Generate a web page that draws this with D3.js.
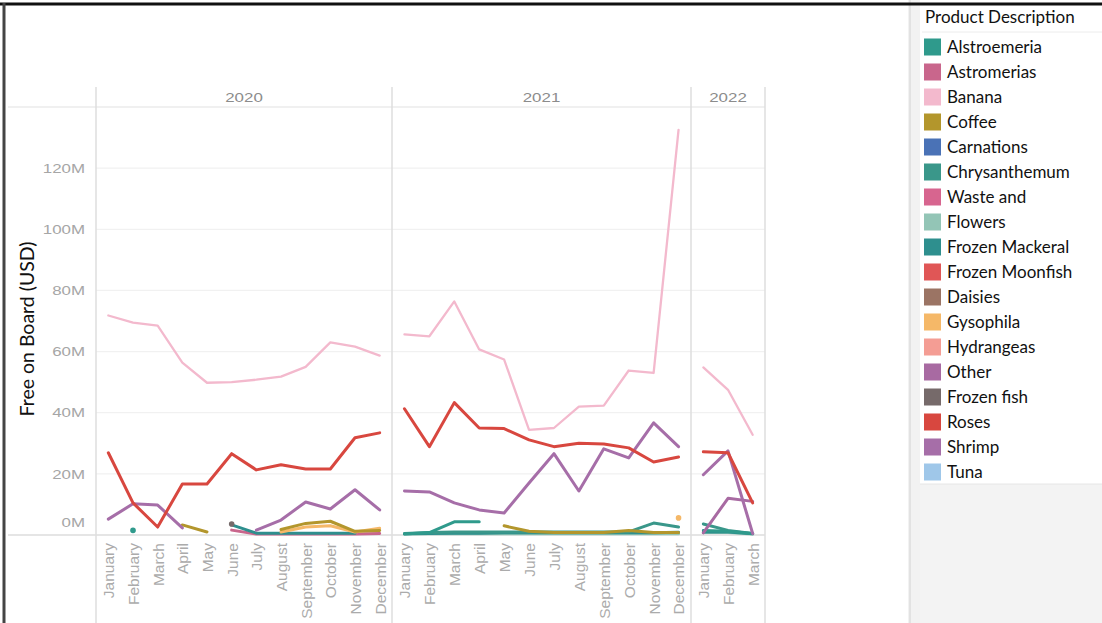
<!DOCTYPE html>
<html>
<head>
<meta charset="utf-8">
<script src="https://cdn.jsdelivr.net/npm/d3@7"></script>
<style>
  html, body { margin: 0; padding: 0; background: #fff; }
  svg { display: block; }
</style>
</head>
<body>
<svg id="chart" width="1102" height="623"></svg>
<script>
// ---------------- DATA ----------------
const years = ["2020", "2021", "2022"];
const monthsPerYear = [12, 12, 3];
const monthNames = ["January","February","March","April","May","June","July","August","September","October","November","December"];
const yTicks = [0, 20, 40, 60, 80, 100, 120]; // millions USD
const legendNames = ["Alstroemeria","Astromerias","Banana","Coffee","Carnations","Chrysanthemum","Waste and","Flowers","Frozen Mackeral","Frozen Moonfish","Daisies","Gysophila","Hydrangeas","Other","Frozen fish","Roses","Shrimp","Tuna"];
const legendColors = ["#2f9a8c","#c9668c","#f3b9cd","#b3962c","#4a72b6","#3a978a","#d7658f","#93c5b6","#2e8f8e","#e05656","#9b7464","#f5b868","#f49d94","#a86aa2","#766a6a","#d8473f","#a66ea8","#9fc7e9"];

// values in millions USD, 27 months: Jan 2020 .. Mar 2022 (null = no data)
const banana       = [71.8,69.5,68.5,56.4,49.8,50.0,50.8,51.8,55.0,63.0,61.6,58.7, 65.6,65.0,76.4,60.7,57.4,34.4,35.0,42.0,42.3,53.8,53.0,132.5, 54.8,47.5,32.8];
const roses        = [26.9,10.5,2.6,16.7,16.7,26.6,21.3,23.0,21.6,21.6,31.8,33.4, 41.3,28.9,43.3,35.0,34.8,31.1,28.9,30.0,29.8,28.5,23.9,25.5, 27.2,26.9,10.5];
const shrimp       = [5.2,10.2,9.8,2.3,null,null,1.6,4.9,10.8,8.5,14.8,8.2, 14.4,14.1,10.5,8.2,7.2,17.0,26.6,14.4,28.2,25.2,36.7,28.9, 19.7,27.5,0.5];
const other        = [null,null,null,null,null,null,null,null,null,null,null,null, null,null,null,null,null,null,null,null,null,null,null,null, 0.7,12.0,11.0];
const coffee       = [null,null,null,3.3,1.0,null,null,1.8,3.8,4.5,1.2,1.5, null,null,null,null,3.0,1.2,0.8,0.8,0.8,1.5,0.8,0.8, null,null,null];
const gysophila    = [null,null,null,null,null,null,null,1.0,2.6,3.0,1.0,2.2, null,null,null,null,null,null,null,null,null,null,null,5.6, null,null,null];
const alstroemeria = [null,1.5,null,null,null,null,null,null,null,null,null,null, 0.3,0.8,4.3,4.3,null,null,null,null,null,null,null,null, 1.5,1.2,0.5];
const chrysanthemum= [null,null,null,null,null,null,null,null,null,null,null,null, 0.5,0.8,1.0,1.0,1.0,1.0,1.0,1.0,1.0,1.0,3.9,2.6, 3.6,1.5,0.5];
const frozenMackeral=[null,null,null,null,null,3.3,0.6,0.6,0.6,0.6,0.6,null, 0.4,0.5,0.6,0.6,0.7,0.7,0.7,0.7,0.7,0.7,0.7,0.9, 1.0,1.0,0.4];
const flowers      = [null,null,null,null,null,null,null,null,null,null,null,null, 0.3,0.4,0.4,0.4,0.4,0.4,0.4,0.4,0.4,0.4,0.4,0.4, 0.8,0.8,0.3];
const astromerias  = [null,null,null,null,null,1.6,0.3,0.3,0.3,0.3,0.3,0.5, null,null,null,null,null,null,null,null,null,null,null,null, null,null,null];
const frozenFish   = [null,null,null,null,null,3.6,null,null,null,null,null,null, null,null,null,null,null,null,null,null,null,null,null,null, null,null,null];

// drawing order (back to front)
const series = [
  ["Flowers", flowers], ["Astromerias", astromerias], ["Frozen Mackeral", frozenMackeral],
  ["Chrysanthemum", chrysanthemum], ["Alstroemeria", alstroemeria], ["Gysophila", gysophila],
  ["Coffee", coffee], ["Frozen fish", frozenFish], ["Other", other], ["Shrimp", shrimp],
  ["Roses", roses], ["Banana", banana]
];

// ---------------- LAYOUT ----------------
const svg = d3.select("#chart");
const W = 1102, H = 623;
const colorOf = d3.scaleOrdinal().domain(legendNames).range(legendColors);
const panelEdges = [96, 392, 691, 765];
const headerTop = 87, paneTop = 107, paneBottom = 535;
const y = d3.scaleLinear().domain([0, 140]).range([paneBottom, paneTop]);
const chartFont = "'Liberation Sans', Arial, sans-serif";
const legendFont = "Lato, 'Open Sans', sans-serif";

svg.append("rect").attr("width", W).attr("height", H).attr("fill", "#fff");

// horizontal gridlines
const grid = svg.append("g");
yTicks.filter(t => t > 0).forEach(t => {
  grid.append("line").attr("x1", panelEdges[0]).attr("x2", panelEdges[3])
    .attr("y1", y(t)).attr("y2", y(t)).attr("stroke", "#f1f1f1").attr("stroke-width", 1.2);
});
// zero line
svg.append("line").attr("x1", 8).attr("x2", panelEdges[3]).attr("y1", y(0)).attr("y2", y(0))
  .attr("stroke", "#dcdcdc").attr("stroke-width", 1.5);
// header bottom line
svg.append("line").attr("x1", 8).attr("x2", panelEdges[3]).attr("y1", paneTop).attr("y2", paneTop)
  .attr("stroke", "#e2e2e2").attr("stroke-width", 1.2);
// panel vertical lines
panelEdges.forEach(x => {
  svg.append("line").attr("x1", x).attr("x2", x).attr("y1", headerTop).attr("y2", H)
    .attr("stroke", "#dedede").attr("stroke-width", 1.5);
});

// y axis
const yAxis = d3.axisLeft(y).tickValues(yTicks).tickSize(0).tickFormat(d => d + "M");
const ya = svg.append("g").attr("transform", "translate(85,0)").call(yAxis);
ya.select(".domain").remove();
ya.selectAll(".tick text").attr("font-family", chartFont).attr("font-size", 13).attr("fill", "#a6a6a6")
  .attr("x", 0).attr("dx", 0).attr("dy", d => d === 0 ? "-0.65em" : "0.32em")
  .attr("transform", "scale(1.3,1)");

svg.append("text").attr("transform", "translate(34,329) rotate(-90)")
  .attr("text-anchor", "middle").attr("font-family", legendFont).attr("font-size", 19.5)
  .attr("fill", "#111").text("Free on Board (USD)");

// panels
let offset = 0;
years.forEach((yr, pi) => {
  const n = monthsPerYear[pi];
  const mNames = monthNames.slice(0, n);
  const x = d3.scalePoint().domain(mNames).range([panelEdges[pi], panelEdges[pi + 1]]).padding(0.5);
  // header
  const cx = (panelEdges[pi] + panelEdges[pi + 1]) / 2;
  svg.append("text").attr("transform", `translate(${cx},102) scale(1.3,1)`)
    .attr("text-anchor", "middle").attr("font-family", chartFont).attr("font-size", 13)
    .attr("fill", "#8c8c8c").text(yr);
  // month labels
  const xa = svg.append("g").attr("transform", `translate(0,${paneBottom + 8})`)
    .call(d3.axisBottom(x).tickSize(0));
  xa.select(".domain").remove();
  xa.selectAll("text").attr("font-family", chartFont).attr("font-size", 15.5).attr("fill", "#ababab")
    .attr("text-anchor", "end").attr("transform", "rotate(-90)")
    .attr("x", 0).attr("y", 0).attr("dx", 0).attr("dy", "0.35em");

  const g = svg.append("g");
  series.forEach(([name, vals]) => {
    const pts = mNames.map((m, i) => ({ m, v: vals[offset + i], i }));
    const line = d3.line().defined(d => d.v != null).x(d => x(d.m)).y(d => y(d.v));
    const isBanana = name === "Banana";
    g.append("path").datum(pts).attr("d", line).attr("fill", "none")
      .attr("stroke", colorOf(name)).attr("stroke-width", isBanana ? 2.3 : 3)
      .attr("stroke-linejoin", "round").attr("stroke-linecap", "round");
    // isolated points
    pts.forEach((d, i) => {
      if (d.v == null) return;
      const prev = pts[i - 1], next = pts[i + 1];
      if ((!prev || prev.v == null) && (!next || next.v == null)) {
        g.append("circle").attr("cx", x(d.m)).attr("cy", y(d.v)).attr("r", 2.8)
          .attr("fill", colorOf(name));
      }
    });
  });
  offset += n;
});

// right side: divider strip and legend
svg.append("rect").attr("x", 908).attr("y", 0).attr("width", 12).attr("height", H).attr("fill", "#f2f2f2");
svg.append("line").attr("x1", 910).attr("x2", 910).attr("y1", 0).attr("y2", H).attr("stroke", "#dcdcdc").attr("stroke-width", 1.5);
svg.append("rect").attr("x", 920).attr("y", 484).attr("width", W - 920).attr("height", H - 484).attr("fill", "#f3f3f3");
svg.append("rect").attr("x", 920).attr("y", 6).attr("width", W - 920).attr("height", 478).attr("fill", "#fff");
svg.append("line").attr("x1", 920).attr("x2", W).attr("y1", 484).attr("y2", 484).attr("stroke", "#e6e6e6");
svg.append("line").attr("x1", 922).attr("x2", W).attr("y1", 32).attr("y2", 32).attr("stroke", "#ececec");

const legend = svg.append("g").attr("font-family", legendFont);
legend.append("text").attr("x", 925).attr("y", 23).attr("font-size", 17).attr("fill", "#111").text("Product Description");
const ly = d3.scalePoint().domain(legendNames).range([47, 472]);
legendNames.forEach(name => {
  legend.append("rect").attr("x", 924).attr("y", ly(name) - 8.5).attr("width", 17).attr("height", 17)
    .attr("fill", colorOf(name));
  legend.append("text").attr("x", 947).attr("y", ly(name)).attr("dy", "0.35em")
    .attr("font-size", 17).attr("fill", "#111").text(name);
});

// outer frame
svg.append("line").attr("x1", 0).attr("x2", W).attr("y1", 4).attr("y2", 4).attr("stroke", "#111").attr("stroke-width", 3);
svg.append("line").attr("x1", 4).attr("x2", 4).attr("y1", 3).attr("y2", H).attr("stroke", "#444").attr("stroke-width", 3);
</script>
</body>
</html>
